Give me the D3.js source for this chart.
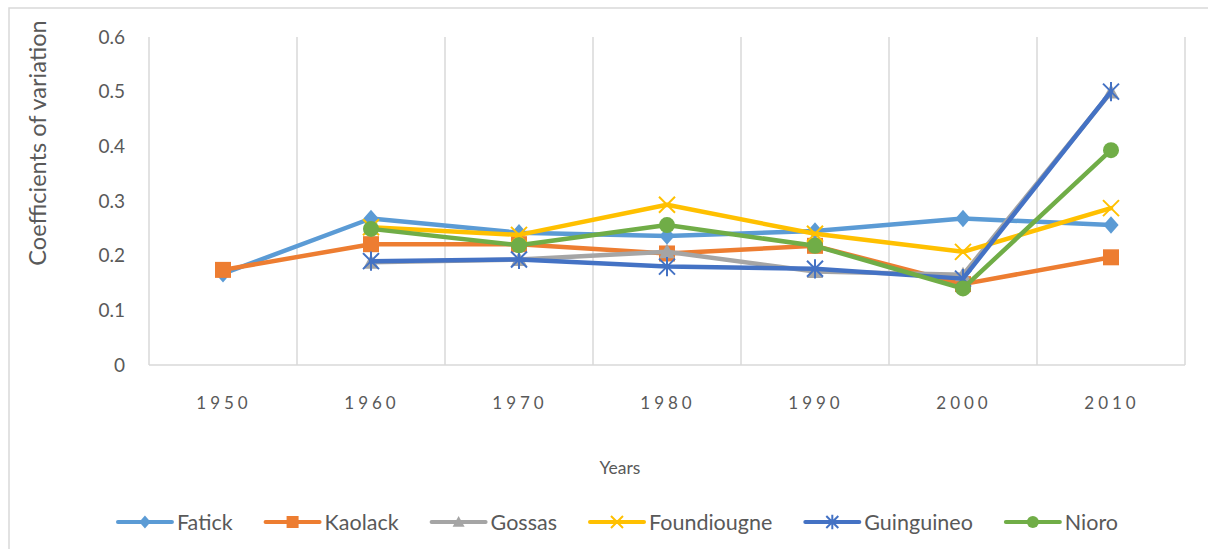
<!DOCTYPE html>
<html>
<head>
<meta charset="utf-8">
<script src="https://cdn.jsdelivr.net/npm/d3@7"></script>
<style>
  body { margin: 0; background: #fff; }
  svg { display: block; font-family: Lato, "Open Sans", sans-serif; }
  .grid line { stroke: #d9d9d9; stroke-width: 1.5; }
  text { fill: #595959; }
</style>
</head>
<body>
<div id="wrapper"></div>
<script>
const years = ["1950", "1960", "1970", "1980", "1990", "2000", "2010"]
const yTicks = [0, 0.1, 0.2, 0.3, 0.4, 0.5, 0.6]

const fatick      = [0.167, 0.268, 0.242, 0.236, 0.245, 0.268, 0.256]
const kaolack     = [0.174, 0.221, 0.221, 0.204, 0.218, 0.148, 0.197]
const gossas      = [null, 0.188, 0.193, 0.207, 0.171, 0.165, 0.499]
const foundiougne = [null, 0.252, 0.238, 0.293, 0.240, 0.207, 0.287]
const guinguineo  = [null, 0.190, 0.193, 0.180, 0.176, 0.158, 0.500]
const nioro       = [null, 0.249, 0.219, 0.256, 0.218, 0.140, 0.393]

const seriesNames = ["Fatick", "Kaolack", "Gossas", "Foundiougne", "Guinguineo", "Nioro"]
const seriesValues = [fatick, kaolack, gossas, foundiougne, guinguineo, nioro]
const colors = ["#5b9bd5", "#ed7d31", "#a5a5a5", "#ffc000", "#4472c4", "#70ad47"]
const markers = ["diamond", "square", "triangle", "x", "asterisk", "circle"]

function drawChart() {
    const width = 1208, height = 549
    const plot = { left: 149, right: 1185, top: 37, bottom: 365 }

    const svg = d3.select("#wrapper").append("svg")
        .attr("width", width)
        .attr("height", height)

    // outer chart border
    svg.append("rect")
        .attr("x", 9).attr("y", 8)
        .attr("width", width + 10).attr("height", height + 10)
        .attr("fill", "none")
        .attr("stroke", "#d9d9d9")
        .attr("stroke-width", 1.5)

    const xScale = d3.scalePoint()
        .domain(years)
        .range([plot.left, plot.right])
        .padding(0.5)
    const step = xScale.step()

    const yScale = d3.scaleLinear()
        .domain([0, 0.6])
        .range([plot.bottom, plot.top])

    // vertical gridlines at category boundaries
    const bounds = years.map(y => xScale(y) + step / 2)
    svg.append("g").attr("class", "grid")
        .selectAll("line")
        .data(bounds)
        .join("line")
        .attr("x1", d => d).attr("x2", d => d)
        .attr("y1", plot.top).attr("y2", plot.bottom)

    // axis lines
    svg.append("line")
        .attr("x1", plot.left).attr("x2", plot.left)
        .attr("y1", plot.top).attr("y2", plot.bottom)
        .attr("stroke", "#d9d9d9").attr("stroke-width", 1.5)
    svg.append("line")
        .attr("x1", plot.left).attr("x2", plot.right)
        .attr("y1", plot.bottom).attr("y2", plot.bottom)
        .attr("stroke", "#d9d9d9").attr("stroke-width", 1.5)

    // y tick labels
    svg.append("g")
        .selectAll("text")
        .data(yTicks)
        .join("text")
        .attr("x", 125)
        .attr("y", d => yScale(d))
        .attr("dy", "0.35em")
        .attr("text-anchor", "end")
        .style("font-size", "19px")
        .text(d => d3.format("")(d))

    // x tick labels
    svg.append("g")
        .selectAll("text")
        .data(years)
        .join("text")
        .attr("x", d => xScale(d) + 1)
        .attr("y", 403)
        .attr("dy", "0.35em")
        .attr("text-anchor", "middle")
        .style("font-size", "17px")
        .style("letter-spacing", "4px")
        .text(d => d)

    // axis titles
    svg.append("text")
        .attr("transform", "translate(38,143) rotate(-90)")
        .attr("dy", "0.35em")
        .attr("text-anchor", "middle")
        .style("font-size", "23.5px")
        .text("Coefficients of variation")

    svg.append("text")
        .attr("x", 620).attr("y", 468)
        .attr("dy", "0.35em")
        .attr("text-anchor", "middle")
        .style("font-size", "17.5px")
        .text("Years")

    function drawMarker(g, type, color, size) {
        const s = size / 2
        if (type === "diamond") {
            g.append("path").attr("d", `M0,${-s * 1.1}L${s * 0.95},0L0,${s * 1.1}L${-s * 0.95},0Z`).attr("fill", color)
        } else if (type === "square") {
            g.append("rect").attr("x", -s).attr("y", -s).attr("width", size).attr("height", size).attr("fill", color)
        } else if (type === "triangle") {
            g.append("path").attr("d", `M0,${-s}L${s},${s * 0.8}L${-s},${s * 0.8}Z`).attr("fill", color)
        } else if (type === "circle") {
            g.append("circle").attr("r", s).attr("fill", color)
        } else if (type === "x") {
            g.append("path").attr("d", `M${-s},${-s}L${s},${s}M${-s},${s}L${s},${-s}`)
                .attr("stroke", color).attr("stroke-width", 2)
        } else if (type === "asterisk") {
            g.append("path").attr("d", `M${-s},${-s}L${s},${s}M${-s},${s}L${s},${-s}M0,${-s * 1.2}L0,${s * 1.2}`)
                .attr("stroke", color).attr("stroke-width", 2)
        }
    }

    const line = d3.line()
        .defined(d => d.value !== null)
        .x(d => xScale(d.year))
        .y(d => yScale(d.value))

    seriesNames.forEach((name, i) => {
        const data = years.map((y, j) => ({ year: y, value: seriesValues[i][j] }))
        const g = svg.append("g")
        g.append("path")
            .datum(data)
            .attr("d", line)
            .attr("fill", "none")
            .attr("stroke", colors[i])
            .attr("stroke-width", 4.5)
            .attr("stroke-linejoin", "round")
            .attr("stroke-linecap", "round")
        data.filter(d => d.value !== null).forEach(d => {
            const m = g.append("g")
                .attr("transform", `translate(${xScale(d.year)},${yScale(d.value)})`)
            drawMarker(m, markers[i], colors[i], 16)
        })
    })

    // legend
    const legend = svg.append("g")
    let cx = 0
    const lineLen = 54
    seriesNames.forEach((name, i) => {
        const item = legend.append("g").attr("transform", `translate(${cx},0)`)
        item.append("line")
            .attr("x1", 0).attr("x2", lineLen)
            .attr("stroke", colors[i]).attr("stroke-width", 4)
            .attr("stroke-linecap", "round")
        const m = item.append("g").attr("transform", `translate(${lineLen / 2},0)`)
        drawMarker(m, markers[i], colors[i], 12)
        const t = item.append("text")
            .attr("x", lineLen + 5)
            .attr("dy", "0.35em")
            .style("font-size", "21.5px")
            .text(name)
        cx += lineLen + 5 + t.node().getComputedTextLength() + 33
    })
    const legendWidth = cx - 33
    legend.attr("transform", `translate(${618 - legendWidth / 2},522)`)
}

drawChart()
</script>
</body>
</html>
